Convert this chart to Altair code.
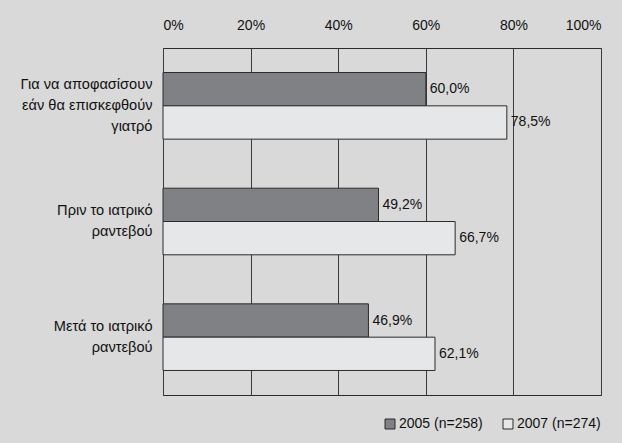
import altair as alt
import pandas as pd

# Reasons for looking up health information online, by survey year
categories = [
    "Για να αποφασίσουν|εάν θα επισκεφθούν|γιατρό",
    "Πριν το ιατρικό|ραντεβού",
    "Μετά το ιατρικό|ραντεβού",
]
series = ["2005 (n=258)", "2007 (n=274)"]
values_2005 = [60.0, 49.2, 46.9]
values_2007 = [78.5, 66.7, 62.1]
x_ticks = [0, 20, 40, 60, 80, 100]

rows = []
for cat, v05, v07 in zip(categories, values_2005, values_2007):
    for s, v in zip(series, (v05, v07)):
        rows.append({
            "cat": cat,
            "series": s,
            "value": v,
            "label": f"{v:.1f}".replace(".", ",") + "%",
        })
df = pd.DataFrame(rows)

FONT = "Arial"
FS = 14
TXT = "#111111"
BG = "#d9d9d9"
LINE_H = 21

y_enc = alt.Y(
    "cat:N",
    sort=categories,
    scale=alt.Scale(paddingInner=0.424, paddingOuter=0.212),
    axis=alt.Axis(
        title=None,
        ticks=False,
        domain=False,
        labelPadding=11,
        labelFontSize=14.6,
        labelFont=FONT,
        labelColor=TXT,
        labelLineHeight=LINE_H,
        labelLimit=220,
        labelExpr="split(datum.label, '|')",
        # shift wrapped labels up so the block is centred on its band
        labelOffset={
            "condition": {
                "test": "length(split(datum.label, '|')) > 2",
                "value": -LINE_H,
            },
            "value": -LINE_H / 2,
        },
    ),
)
y_off = alt.YOffset("series:N", sort=series, scale=alt.Scale(paddingInner=0, paddingOuter=0))

x_enc = alt.X(
    "value:Q",
    scale=alt.Scale(domain=[0, 100], nice=False),
    axis=alt.Axis(
        orient="top",
        title=None,
        values=x_ticks,
        ticks=False,
        domain=False,
        grid=True,
        gridColor="#3a3a3a",
        gridWidth=1,
        gridOpacity=1,
        labelPadding=16,
        labelFontSize=FS,
        labelFont=FONT,
        labelColor=TXT,
        labelExpr="datum.value + '%'",
    ),
)

bars = alt.Chart(df).mark_bar(stroke="#2b2b2b", strokeWidth=1).encode(
    x=x_enc,
    y=y_enc,
    yOffset=y_off,
    color=alt.Color(
        "series:N",
        sort=series,
        scale=alt.Scale(domain=series, range=["#808184", "#e6e7e8"]),
        legend=alt.Legend(
            title=None,
            orient="none",
            direction="horizontal",
            legendX=220,
            legendY=369,
            symbolType="square",
            symbolSize=100,
            symbolStrokeColor="#2b2b2b",
            symbolStrokeWidth=1,
            labelFont=FONT,
            labelFontSize=FS,
            labelColor=TXT,
            labelOffset=2,
            columnPadding=18,
            padding=0,
        ),
    ),
)

labels = alt.Chart(df).mark_text(
    align="left", baseline="middle", dx=4, font=FONT, fontSize=FS, color=TXT
).encode(
    x="value:Q",
    y=alt.Y("cat:N", sort=categories),
    yOffset=alt.YOffset("series:N", sort=series),
    text="label:N",
)

chart = (
    alt.layer(bars, labels)
    .properties(
        width=438,
        height=347,
        background=BG,
        padding={"left": 163, "top": 48, "right": 21, "bottom": 48},
        autosize=alt.AutoSizeParams(type="none"),
    )
    .configure_view(stroke="#2b2b2b", strokeWidth=1, fill=BG)
    .configure_axis(labelFont=FONT, labelFontSize=FS)
    .configure_legend(labelFont=FONT, labelFontSize=FS)
    .configure_text(font=FONT, fontSize=FS)
)

chart.save("out.html", embed_options={"renderer": "svg", "actions": False})
